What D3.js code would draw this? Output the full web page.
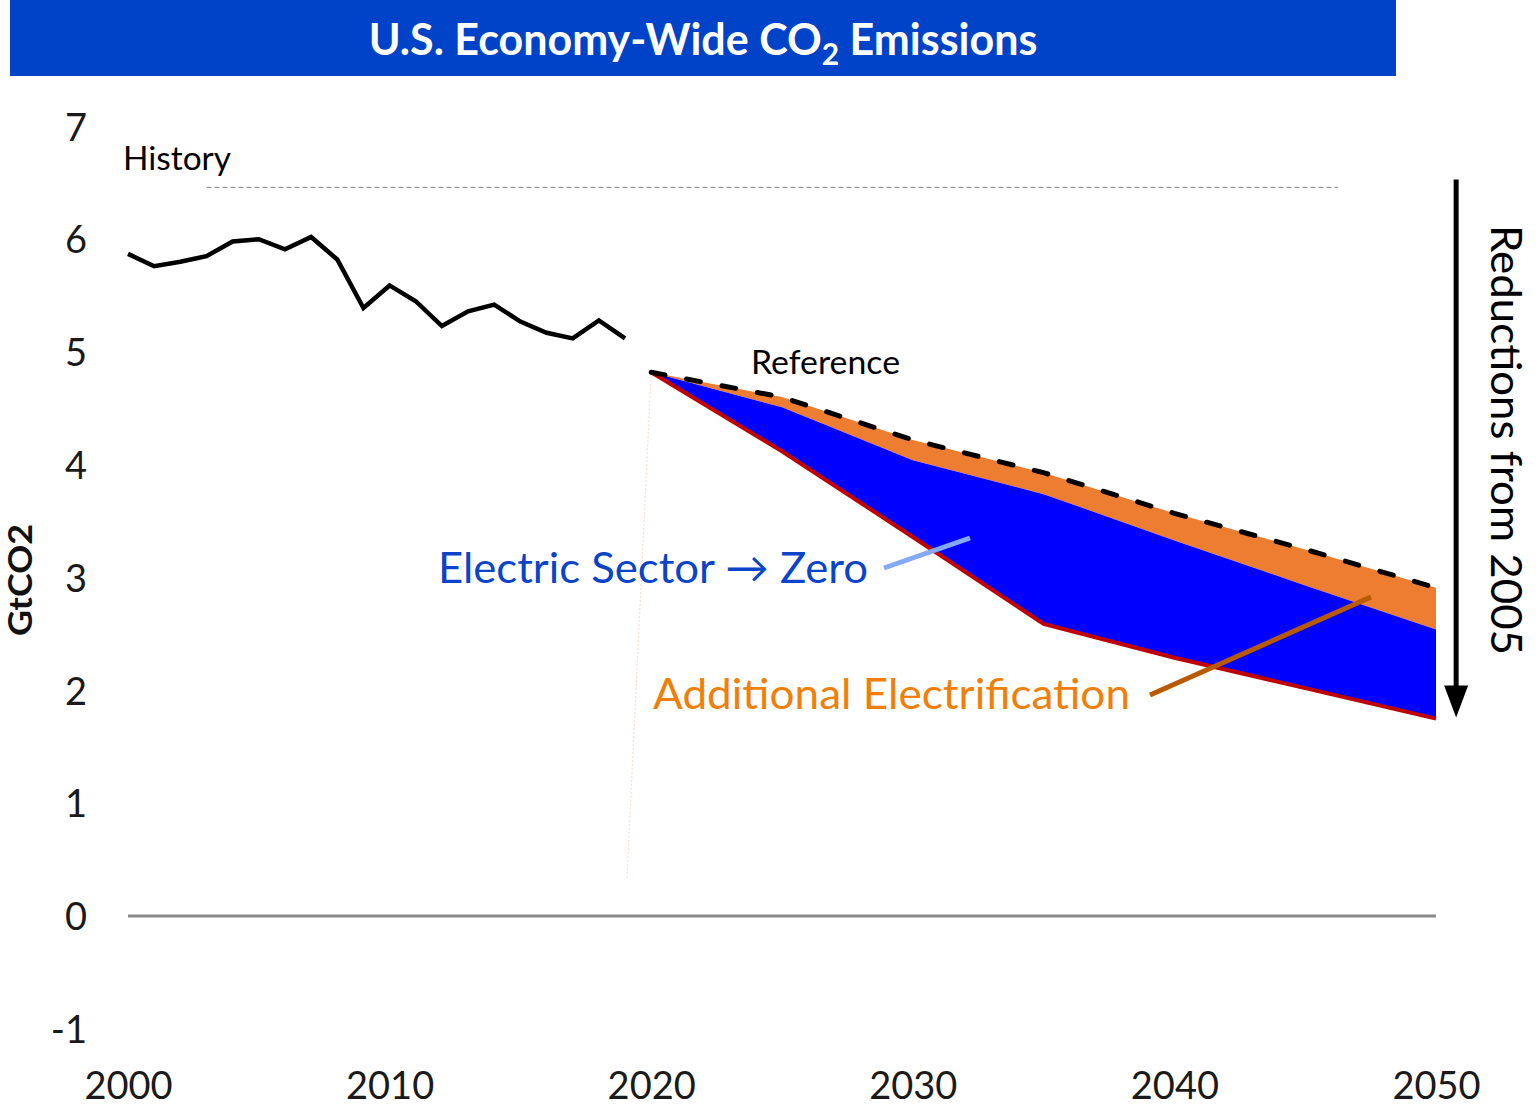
<!DOCTYPE html>
<html>
<head>
<meta charset="utf-8">
<script src="https://cdn.jsdelivr.net/npm/d3@7"></script>
<style>
  html, body { margin: 0; padding: 0; background: #fff; }
  svg { display: block; }
  text { font-family: Lato, "Open Sans", sans-serif; }
</style>
</head>
<body>
<svg id="chart" width="1537" height="1110"></svg>
<script>
// ---- data ----
const histYears = [2000,2001,2002,2003,2004,2005,2006,2007,2008,2009,2010,2011,2012,2013,2014,2015,2016,2017,2018,2019];
const histValues = [5.87,5.76,5.80,5.85,5.98,6.00,5.91,6.02,5.82,5.39,5.59,5.45,5.23,5.36,5.42,5.27,5.17,5.12,5.28,5.12];
const projYears = [2020,2025,2030,2035,2040,2045,2050];
const referenceValues = [4.82,4.60,4.22,3.93,3.57,3.25,2.91];
const addlElecValues = [4.82,4.51,4.04,3.74,3.33,2.93,2.54];
const elecZeroValues = [4.82,4.12,3.36,2.59,2.29,2.02,1.75];
const yTicks = [-1,0,1,2,3,4,5,6,7];
const xTicks = [2000,2010,2020,2030,2040,2050];
const titleText = ["U.S. Economy-Wide CO", "2", " Emissions"];

// ---- layout ----
const svg = d3.select("#chart");
const x = d3.scaleLinear().domain([2000, 2050]).range([128, 1436]);
const y = d3.scaleLinear().domain([-1, 7]).range([1028.8, 126.4]);

// title bar
svg.append("rect").attr("x", 10).attr("y", 0).attr("width", 1386).attr("height", 76).attr("fill", "#0043c8");
const t = svg.append("text").attr("x", 703).attr("y", 55).attr("text-anchor", "middle")
  .attr("fill", "#fff").attr("font-weight", "bold").attr("font-size", 43);
t.append("tspan").text(titleText[0]);
t.append("tspan").attr("dy", 10).attr("font-size", 30).text(titleText[1]);
t.append("tspan").attr("dy", -10).text(titleText[2]);

// y axis (labels only)
const yAxis = d3.axisLeft(y).tickValues(yTicks).tickSize(0).tickPadding(0).tickFormat(d => String(d));
const gy = svg.append("g").attr("transform", "translate(87,0)").call(yAxis);
gy.select(".domain").remove();
gy.selectAll("text").attr("font-size", 38).attr("fill", "#1a1a1a").attr("font-family", "Lato, sans-serif").attr("dy", "0.36em");

// x axis (labels only)
const xAxis = d3.axisBottom(x).tickValues(xTicks).tickSize(0).tickPadding(0).tickFormat(d => String(d));
const gx = svg.append("g").attr("transform", "translate(0,1072)").call(xAxis);
gx.select(".domain").remove();
gx.selectAll("text").attr("font-size", 38).attr("fill", "#1a1a1a").attr("font-family", "Lato, sans-serif").attr("dy", "0.72em");

// zero line
svg.append("line").attr("x1", x(2000)).attr("x2", x(2050)).attr("y1", y(0)).attr("y2", y(0))
  .attr("stroke", "#8a8a8a").attr("stroke-width", 3);

// y axis title
svg.append("text").attr("transform", `translate(32,${580}) rotate(-90)`).attr("text-anchor", "middle")
  .attr("font-size", 33).attr("font-weight", "bold").attr("fill", "#111")
  .attr("textLength", 112).attr("lengthAdjust", "spacingAndGlyphs").text("GtCO2");

// faint leader from 2020 downwards
svg.append("line").attr("x1", x(2020)).attr("y1", y(4.82)).attr("x2", x(2019.07)).attr("y2", y(0.32))
  .attr("stroke", "#f5dfd4").attr("stroke-width", 1.2).attr("stroke-dasharray", "2,2");

// grey dashed line
svg.append("line").attr("x1", x(2003.0)).attr("x2", x(2046.25)).attr("y1", y(6.46)).attr("y2", y(6.46))
  .attr("stroke", "#9a9a9a").attr("stroke-width", 1.2).attr("stroke-dasharray", "5,3");

// areas
const proj = projYears.map((yr, i) => ({ yr, ref: referenceValues[i], addl: addlElecValues[i], zero: elecZeroValues[i] }));
svg.append("path").datum(proj).attr("fill", "#ed7d31")
  .attr("d", d3.area().x(d => x(d.yr)).y0(d => y(d.addl)).y1(d => y(d.ref)));
svg.append("path").datum(proj).attr("fill", "#0000ff")
  .attr("d", d3.area().x(d => x(d.yr)).y0(d => y(d.zero)).y1(d => y(d.addl)));
svg.append("path").datum(proj).attr("fill", "none").attr("stroke", "#c00000").attr("stroke-width", 4)
  .attr("d", d3.line().x(d => x(d.yr)).y(d => y(d.zero)));
svg.append("path").datum(proj).attr("fill", "none").attr("stroke", "#000").attr("stroke-width", 5)
  .attr("stroke-dasharray", "14,22").attr("stroke-linecap", "round")
  .attr("d", d3.line().x(d => x(d.yr)).y(d => y(d.ref)));

// history line
svg.append("path").datum(histYears.map((yr, i) => [yr, histValues[i]])).attr("fill", "none")
  .attr("stroke", "#000").attr("stroke-width", 4.5).attr("stroke-linejoin", "miter")
  .attr("d", d3.line().x(d => x(d[0])).y(d => y(d[1])));

// labels
svg.append("text").attr("x", 123).attr("y", 170).attr("font-size", 32).attr("fill", "#000")
  .attr("textLength", 108).attr("lengthAdjust", "spacingAndGlyphs").text("History");
svg.append("text").attr("x", 751).attr("y", 374).attr("font-size", 32).attr("fill", "#000")
  .attr("textLength", 149).attr("lengthAdjust", "spacingAndGlyphs").text("Reference");

svg.append("text").attr("x", 438).attr("y", 583).attr("font-size", 43).attr("fill", "#0a44c8")
  .attr("textLength", 430).attr("lengthAdjust", "spacingAndGlyphs").text("Electric Sector \u2192 Zero");
svg.append("line").attr("x1", 884).attr("y1", 568).attr("x2", 970).attr("y2", 538)
  .attr("stroke", "#85aaf5").attr("stroke-width", 5);

svg.append("text").attr("x", 653).attr("y", 709).attr("font-size", 43).attr("fill", "#f07f0a")
  .attr("textLength", 477).attr("lengthAdjust", "spacingAndGlyphs").text("Additional Electrification");
svg.append("line").attr("x1", 1150).attr("y1", 695).attr("x2", 1371).attr("y2", 597)
  .attr("stroke", "#b85a00").attr("stroke-width", 5);

// reductions arrow
const ax = x(2050.77);
svg.append("line").attr("x1", ax).attr("x2", ax).attr("y1", y(6.53)).attr("y2", y(1.76) - 28)
  .attr("stroke", "#000").attr("stroke-width", 5);
svg.append("path").attr("fill", "#000")
  .attr("d", `M${ax - 12},${y(1.76) - 32} L${ax + 12},${y(1.76) - 32} L${ax},${y(1.76)} Z`);
svg.append("text").attr("transform", `translate(1491,440) rotate(90)`).attr("text-anchor", "middle")
  .attr("font-size", 42).attr("fill", "#000")
  .attr("textLength", 430).attr("lengthAdjust", "spacingAndGlyphs").text("Reductions from 2005");
</script>
</body>
</html>
